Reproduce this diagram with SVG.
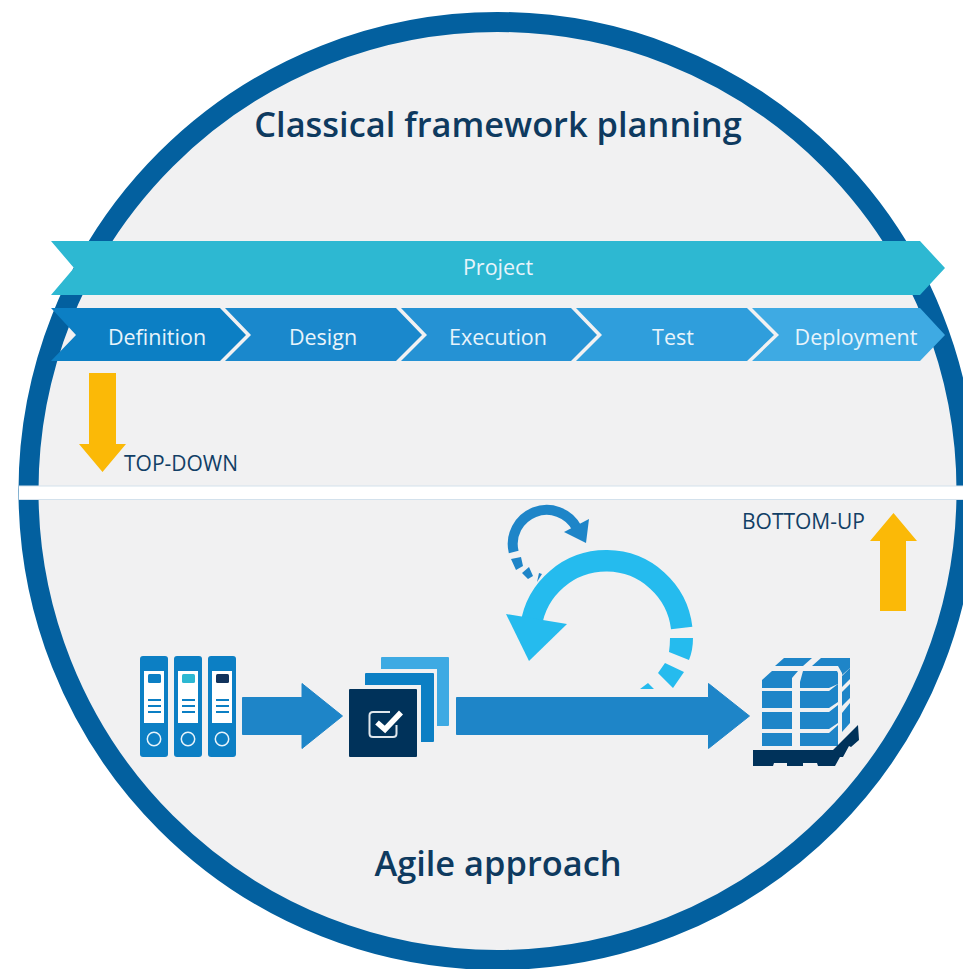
<svg xmlns="http://www.w3.org/2000/svg" width="963" height="969" viewBox="0 0 963 969">
<style>
text{font-family:"Open Sans","Noto Sans","Liberation Sans",sans-serif}
.h{font-size:34.4px;font-weight:600;fill:#0e3a5f;text-anchor:middle}
.w{font-size:21.500px;fill:#e8f4fb;text-anchor:middle}
.l{font-size:21px;fill:#123f66}
.y{fill:#fbb907}
.b{fill:#0c7fc4}
.a{fill:#1e85c8;stroke:#1e85c8;stroke-width:1;stroke-linejoin:round}
.c{fill:#25bbee}
.line{stroke:#0c7fc4;stroke-width:2;fill:none}
</style>
<rect width="963" height="969" fill="#fff"/>
<g id="circle">
<circle cx="497.500" cy="491" r="469" fill="#f1f1f2" stroke="#03609f" stroke-width="20"/>
<rect x="19" y="486" width="944" height="14" fill="#fff"/>
<path d="M19 486H963M19 499.500H963" stroke="#d3e1ec" stroke-width="1" fill="none"/>
</g>
<g id="title-top"><text class="h" x="498" y="137">Classical framework planning</text></g>
<g id="project"><path d="M51 241H920L945 268L920 295H51L74 268Z" fill="#2db8d2"/><text class="w" x="498" y="275">Project</text></g>
<g id="definition"><path d="M51 308H220L246 335L220 361H51L76 335Z" fill="#0c7fc4"/><text class="w" x="157" y="345">Definition</text></g>
<g id="design"><path d="M225 308H396L422 335L396 361H225L251 335Z" fill="#1a88cc"/><text class="w" x="323" y="345">Design</text></g>
<g id="execution"><path d="M401 308H571L597 335L571 361H401L427 335Z" fill="#2592d4"/><text class="w" x="498" y="345">Execution</text></g>
<g id="test"><path d="M576 308H747L774 335L747 361H576L602 335Z" fill="#2f9edc"/><text class="w" x="673" y="345">Test</text></g>
<g id="deployment"><path d="M752 308H920L945 335L920 361H752L779 335Z" fill="#3eaae3"/><text class="w" x="856" y="345">Deployment</text></g>
<g id="top-down"><path class="y" d="M89 373H116V444H126L102.500 472L79 444H89Z"/><text class="l" x="124" y="471">TOP-DOWN</text></g>
<g id="bottom-up"><path class="y" d="M880 611H906V541H917L893.500 513L870 541H880Z"/><text class="l" x="742" y="529">BOTTOM-UP</text></g>
<g id="binders">
<g id="binder-1"><rect class="b" x="140" y="656" width="28" height="101" rx="3"/><rect x="144" y="671" width="20" height="52" fill="#fff"/><rect x="148" y="674" width="13" height="9" rx="1.500" fill="#0c7fc4"/><path class="line" d="M148 700H161M148 706H161M148 712H161"/><circle cx="154" cy="739" r="6.700" fill="none" stroke="#e8f4fb" stroke-width="1.500"/></g>
<g id="binder-2"><rect class="b" x="174" y="656" width="28" height="101" rx="3"/><rect x="178" y="671" width="20" height="52" fill="#fff"/><rect x="182" y="674" width="13" height="9" rx="1.500" fill="#2db8d2"/><path class="line" d="M182 700H195M182 706H195M182 712H195"/><circle cx="188" cy="739" r="6.700" fill="none" stroke="#e8f4fb" stroke-width="1.500"/></g>
<g id="binder-3"><rect class="b" x="208" y="656" width="28" height="101" rx="3"/><rect x="212" y="671" width="20" height="52" fill="#fff"/><rect x="216" y="674" width="13" height="9" rx="1.500" fill="#12335c"/><path class="line" d="M216 700H229M216 706H229M216 712H229"/><circle cx="222" cy="739" r="6.700" fill="none" stroke="#e8f4fb" stroke-width="1.500"/></g>
</g>
<g id="connectors">
<path class="a" d="M242.500 697.500H302V683.500L342.500 716L302 748.500V734.500H242.500Z"/>
<path class="a" d="M456.500 697.500H708.500V683.500L749.500 716L708.500 748.500V734.500H456.500Z"/>
</g>
<g id="cards">
<rect x="381" y="657" width="68" height="69" rx="1" fill="#3eaae3"/>
<rect x="361" y="669" width="76" height="65" fill="#f1f1f2"/>
<rect x="365" y="673" width="69" height="69" rx="1" fill="#0c7fc4"/>
<rect x="345" y="685" width="76" height="65" fill="#f1f1f2"/>
<rect x="349" y="689" width="68" height="68" rx="1" fill="#00325a"/>
<path d="M390 712H373Q369.500 712 369.500 715.500V733.500Q369.500 737 373 737H393Q396.500 737 396.500 733.500V725" fill="none" stroke="#dfe6ec" stroke-width="2"/>
<path d="M377 722.500L385 729.500L401 712.500" fill="none" stroke="#fff" stroke-width="5.500"/>
</g>
<g id="loop-small">
<path d="M513.700 552A34 34 0 0 1 576.500 527.500" fill="none" stroke="#1e85c8" stroke-width="10"/>
<path fill="#1e85c8" d="M589 519L586 543L564 532Z"/>
<path d="M511 559L521 557L523 566L516 570ZM522 573L529 567L533 576L528 579ZM539 573L542 574L537 582Z" fill="#1e85c8"/>
</g>
<g id="loop-large">
<path d="M681.700 628A76 76 0 0 0 531 626" fill="none" stroke="#25bbee" stroke-width="21.500"/>
<path class="c" d="M506 614L567 624L529 661Z"/>
<path class="c" d="M670 638H693Q693 650 689 660L669 652Q670 645 670 638ZM665 663L684 672L673 688L658 673ZM640 689L648 683L654 689Z"/>
</g>
<g id="pallet">
<path fill="#1e85c8" d="M775 666L784 658H812L803 666ZM812 666L821 658H850V668L842 675V673L838 666Z"/>
<path fill="#1e85c8" d="M762 680L772 671H798L792 678V688H762ZM800 682L803 671H837L838 673V684L829 688H800Z"/>
<path fill="#1e85c8" d="M762 691H792V708H762ZM800 691H829L838 684V702L829 708H800ZM762 712H792V729H762ZM800 712H829L838 705V723L829 729H800ZM762 733H792V746H762ZM800 733H829L838 725V746H800Z"/>
<path fill="#1e85c8" d="M842 676L850 668V679L842 687ZM842 692L850 684V698L842 706ZM842 713L850 703V723L842 732Z"/>
<path d="M753 750H833L858 725L859 740L851 747L849 746L843 757H840L835 766H818L817 763H803V766H787V763H774L773 766H753Z" fill="#00325a"/>
</g>
<g id="title-bottom"><text class="h" x="498" y="876">Agile approach</text></g>
</svg>
